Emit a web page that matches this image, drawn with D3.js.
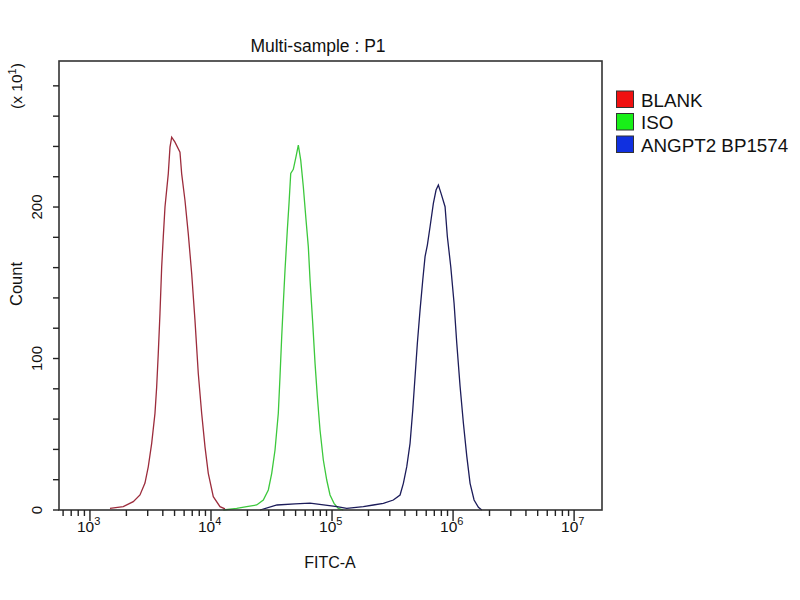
<!DOCTYPE html>
<html><head><meta charset="utf-8">
<script src="https://cdn.jsdelivr.net/npm/d3@7/dist/d3.min.js"></script>
<style>body{margin:0;background:#fff}svg{display:block}text{font-family:"Liberation Sans",Arial,sans-serif;fill:#111}</style>
</head><body>
<svg id="c" width="800" height="600"></svg>
<script>
// FITC-A intensity (x) and Count in units of x10^1 (y)
const blankX = [1463,1885,2280,2590,2848,3032,3236,3445,3558,3668,3789,3914,4035,4168,4437,4584,4734,5040,5543,5726,6098,6493,6928,7375,7853,8378,8923,9499,10447,11868,13053];
const blankY = [1.1,2.2,5.5,9.9,17.8,28.5,44.0,63.8,81.2,103.3,129.7,160.5,180.3,200.0,221.9,239.5,246.1,242.8,236.2,221.9,204.3,182.3,156.0,125.2,90.1,63.7,41.7,24.2,8.8,2.2,0.7];
const isoX = [12640,16310,19720,23860,27050,29760,31750,33810,35990,37170,38400,39590,40890,42720,44120,45580,47880,50410,52670,55130,57920,60980,63710,65820,69290,72390,75630,79580,84750,90410,96270,103870,112730,124000];
const isoY = [0,1.1,2.2,3.3,6.6,13.2,24.2,39.6,63.9,88.1,114.5,136.5,158.4,184.8,202.4,222.2,224.9,233.2,240.9,231.0,213.4,191.4,173.7,151.8,123.2,96.8,74.8,52.8,33.0,19.8,9.9,4.4,1.1,0];
const angX = [25410,35090,49430,65800,109900,132300,181400,219500,265500,321000,364800,388500,414400,441200,464500,485300,507000,533800,561900,586900,613200,645500,687400,723600,756000,795500,858800,897300,957200,1019300,1073000,1143000,1216700,1297900,1381900,1491400,1619000,1727000];
const angY = [0,3.3,4.0,4.6,2.2,1.1,2.2,3.3,4.4,6.6,9.9,17.6,28.6,44.0,66.0,88.1,110.1,132.1,151.8,167.3,174.9,187.0,202.4,211.2,214.5,209.0,200.2,180.4,160.6,136.5,110.1,81.5,57.4,35.6,17.6,6.6,1.8,0];
const seriesNames = ["BLANK","ISO","ANGPT2 BP1574"];
const lineColors = ["#9c2c3c","#3cc83c","#1c1c5a"];
const legendColors = ["#f01010","#18f018","#1030e0"];
const xDecades = [1e3,1e4,1e5,1e6,1e7];
const decadeExp = ["3","4","5","6","7"];
const yTicks = [0,20,40,60,80,100,120,140,160,180,200,220,240,260,280];
const yLabels = [0,100,200];

const svg = d3.select("#c");
const L=59,R=602,T=61,B=510;
const x = d3.scaleLog().domain([555,1.70e7]).range([L,R]);
const y = d3.scaleLinear().domain([0,296.4]).range([B,T]);

const series = [[blankX,blankY],[isoX,isoY],[angX,angY]];
const ln = d3.line().x(d=>x(d[0])).y(d=>y(d[1]));
series.forEach((s,i)=>{
  const pts = s[0].map((v,j)=>[v,s[1][j]]);
  svg.append("path").attr("d",ln(pts)).attr("fill","none").attr("stroke",lineColors[i]).attr("stroke-width",1.3);
});

// frame
svg.append("rect").attr("x",L).attr("y",T).attr("width",R-L).attr("height",B-T)
  .attr("fill","none").attr("stroke","#333").attr("stroke-width",1.6);

// x axis ticks
const minor = x.ticks().filter(v=>v>=x.domain()[0] && v<=x.domain()[1]);
minor.forEach(v=>{
  const isMajor = Math.abs(Math.log10(v)-Math.round(Math.log10(v)))<1e-9;
  svg.append("line").attr("x1",x(v)).attr("x2",x(v)).attr("y1",B).attr("y2",B+(isMajor?11:6))
    .attr("stroke","#222").attr("stroke-width",1.4);
});
xDecades.forEach((v,i)=>{
  const t = svg.append("text").attr("x",x(v)-13).attr("y",532).attr("font-size",15.5);
  t.append("tspan").text("10");
  t.append("tspan").attr("dy",-7).attr("font-size",11).text(decadeExp[i]);
});
// y axis ticks
yTicks.forEach(v=>{
  svg.append("line").attr("x1",L-6).attr("x2",L).attr("y1",y(v)).attr("y2",y(v))
    .attr("stroke","#222").attr("stroke-width",1.4);
});
yLabels.forEach(v=>{
  svg.append("text").attr("transform",`translate(42,${y(v)}) rotate(-90)`).attr("text-anchor","middle")
    .attr("font-size",15).text(v);
});

// titles
svg.append("text").attr("x",318).attr("y",52).attr("text-anchor","middle").attr("font-size",17.5).text("Multi-sample : P1");
svg.append("text").attr("x",330).attr("y",568).attr("text-anchor","middle").attr("font-size",16).text("FITC-A");
svg.append("text").attr("transform","translate(22,284) rotate(-90)").attr("text-anchor","middle").attr("font-size",16.5).text("Count");
const ex = svg.append("text").attr("transform","translate(22,86) rotate(-90)").attr("text-anchor","middle").attr("font-size",15.5);
ex.append("tspan").text("(x 10");
ex.append("tspan").attr("dy",-6).attr("font-size",11).text("1");
ex.append("tspan").attr("dy",6).text(")");

// legend
seriesNames.forEach((n,i)=>{
  const yy = 91 + i*22.5;
  svg.append("rect").attr("x",616.5).attr("y",yy).attr("width",17).attr("height",16.5)
    .attr("fill",legendColors[i]).attr("stroke","#333").attr("stroke-width",1);
  svg.append("text").attr("x",641).attr("y",yy+15.5).attr("font-size",18.8).text(n);
});
</script>
</body></html>
